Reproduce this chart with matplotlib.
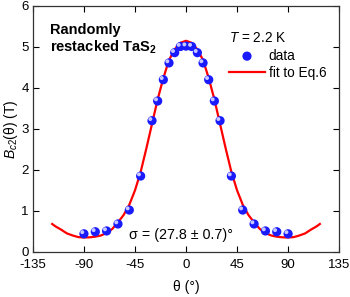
import numpy as np
import matplotlib.pyplot as plt
from matplotlib.transforms import offset_copy

plt.rcParams["font.family"] = ["Liberation Sans", "DejaVu Sans"]
plt.rcParams["mathtext.fontset"] = "custom"
plt.rcParams["mathtext.rm"] = "Liberation Sans"
plt.rcParams["mathtext.it"] = "Liberation Sans:italic"
plt.rcParams["mathtext.bf"] = "Liberation Sans:bold"

# measured points
theta = [-90, -80, -70, -60, -50, -40, -30, -25, -20, -15, -10, -5, 0,
         5, 10, 15, 20, 25, 30, 40, 50, 60, 70, 80, 90]
bc2 = [0.44, 0.49, 0.51, 0.68, 1.02, 1.85, 3.20, 3.68, 4.20, 4.61, 4.86, 5.01, 5.02,
       5.01, 4.86, 4.61, 4.20, 3.68, 3.20, 1.85, 1.02, 0.68, 0.51, 0.49, 0.44]

# fit curve
fit_theta = [-118, -115, -110, -105, -100, -95, -90, -85, -80, -75, -70, -65, -60,
             -55, -50, -45, -40, -35, -30, -25, -20, -15, -10, -5, 0,
             5, 10, 15, 20, 25, 30, 35, 40, 45, 50, 55, 60, 65, 70, 75, 80,
             85, 90, 95, 100, 105, 110, 115, 118]
fit_bc2 = [0.68, 0.62, 0.54, 0.45, 0.40, 0.36, 0.35, 0.355, 0.37, 0.40, 0.46, 0.56, 0.72,
           0.90, 1.15, 1.50, 1.95, 2.52, 3.12, 3.72, 4.24, 4.68, 4.94, 5.10, 5.15,
           5.10, 4.94, 4.68, 4.24, 3.72, 3.12, 2.52, 1.95, 1.50, 1.15, 0.90, 0.72, 0.56, 0.46, 0.40, 0.37,
           0.355, 0.35, 0.36, 0.40, 0.45, 0.54, 0.62, 0.68]

xticks = [-135, -90, -45, 0, 45, 90, 135]

fig = plt.figure(figsize=(3.5, 2.97), dpi=100)
ax = fig.add_axes([0.094, 0.152, 0.875, 0.828])

line, = ax.plot(fit_theta, fit_bc2, color="#ff0000", lw=1.6, zorder=2, label="fit to Eq.6")
dots = ax.scatter(theta, bc2, s=44, color="#1a1aff", edgecolors="none", zorder=3, label="data")
# little highlight so the dots look like spheres
hl = offset_copy(ax.transData, fig=fig, x=-1.2, y=1.2, units="points")
ax.scatter(theta, bc2, s=8, color="#c8c8ff", edgecolors="none", zorder=4, transform=hl)

ax.set_xlim(-135, 135)
ax.set_ylim(0, 6)
ax.set_xticks(xticks)
ax.set_xticklabels([str(t) for t in xticks])
ax.set_yticks(range(7))
ax.tick_params(direction="in", length=4, width=0.8, top=True, right=True,
               labelsize=9.5, colors="black")
ax.tick_params(axis="x", pad=5.5)
ax.tick_params(axis="y", pad=3)
for s in ax.spines.values():
    s.set_linewidth(0.9)
    s.set_color("#333333")

ax.set_xlabel("\u03b8 (\u00b0)", fontsize=10, labelpad=6)
ax.set_ylabel("$B_{c2}$(\u03b8) (T)", fontsize=10, labelpad=1)

ax.text(0.055, 0.93, "Randomly\nrestacked TaS$_\\mathbf{2}$", transform=ax.transAxes,
        fontsize=10.5, fontweight="bold", va="top", ha="left", linespacing=1.1)
ax.text(-50, 0.42, "\u03c3 = (27.8 \u00b1 0.7)\u00b0", fontsize=10.3, ha="left", va="center")

leg = ax.legend(handles=[dots, line], loc="upper right", bbox_to_anchor=(0.985, 0.93),
                frameon=False, fontsize=9.8, title="$T$ = 2.2 K", title_fontsize=9.8,
                handlelength=2.6, handletextpad=0.3, borderaxespad=0.2, labelspacing=0.25)
leg._legend_box.align = "left"

fig.savefig("out.png", dpi=100)
